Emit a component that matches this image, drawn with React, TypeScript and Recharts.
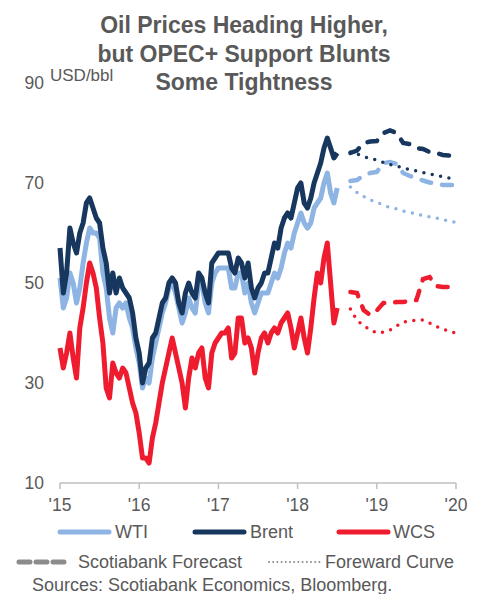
import React from "react";
import { LineChart, Line, XAxis, YAxis } from "recharts";

// months since Jan 2015, history every half month up to Jul 2018
const brentHist = [
  57, 48, 52, 61, 58, 56, 60, 62, 66, 67, 65, 63, 62, 57, 54, 48, 52, 48, 51, 49,
  48, 47, 44, 39, 36, 30, 33, 34, 39, 40, 43, 46, 47, 50, 51, 50, 46, 44, 48, 50,
  48, 47, 52, 51, 48, 46, 54, 55, 56, 56, 56, 56, 53, 52, 55, 54, 51, 54, 49, 47,
  49, 50, 52, 52, 55, 58, 57, 61, 63, 64, 63, 66, 69, 70, 66, 65, 67, 70, 72, 74,
  77, 79, 77, 75, 76,
];
const wtiHist = [
  51, 45, 47, 52, 50, 46, 49, 54, 58, 61, 60, 60, 59, 52, 49, 43, 40, 45, 46, 45,
  46, 43, 41, 37, 34, 29, 31, 30, 35, 38, 41, 44, 46, 49, 50, 48, 45, 42, 44, 47,
  45, 44, 50, 50, 46, 44, 50, 52, 53, 53, 53, 53, 49, 49, 52, 52, 48, 50, 46, 44,
  46, 48, 48, 48, 50, 52, 51, 53, 56, 58, 57, 60, 62, 64, 62, 61, 62, 65, 66, 67,
  70, 72, 68, 66, 69,
];
const wcsHist = [
  37, 33, 36, 40, 35, 31, 41, 45, 50, 54, 52, 49, 43, 38, 29, 27, 34, 32, 31, 33,
  32, 29, 26, 24, 20, 15, 15, 14, 19, 22, 26, 30, 33, 36, 39, 36, 33, 30, 25, 31,
  35, 33, 36, 37, 31, 29, 36, 38, 39, 40, 40, 41, 35, 36, 43, 43, 38, 39, 37, 32,
  36, 39, 40, 38, 40, 41, 40, 42, 43, 44, 41, 37, 40, 43, 39, 36, 41, 47, 52, 50,
  55, 58, 50, 42, 45,
];

// monthly outlook, Sep 2018 .. Jan 2020
const outlookMonths = [44, 45, 46, 47, 48, 49, 50, 51, 52, 53, 54, 55, 56, 57, 58, 59, 60];
const brentForecast = [76, 76.5, 78, 78.3, 78.4, 80, 80.5, 80, 78, 77.8, 77, 76.8, 76.2, 76, 75.6, 75.5, 75.5];
const wtiForecast = [70.4, 70.6, 71.5, 72, 72.2, 74, 74.2, 73.8, 72, 71.4, 71, 70.5, 70.1, 69.9, 69.6, 69.6, 69.6];
const wcsForecast = [48.2, 48, 44.6, 43.6, 44.5, 46, 46, 46.2, 46.2, 46.4, 46.6, 50.8, 51.2, 49.4, 49.2, 49.2, 49.2];
const brentCurve = [76.2, 75.8, 75.3, 74.9, 74.6, 74.1, 73.7, 73.4, 73, 72.7, 72.4, 72.1, 71.8, 71.5, 71.3, 71, 70.7];
const wtiCurve = [69.2, 68.1, 67.3, 66.6, 66.1, 65.6, 65.1, 64.8, 64.4, 64.1, 63.8, 63.5, 63.2, 63, 62.7, 62.4, 62.1];
const wcsCurve = [44.8, 42.5, 41.5, 40.6, 40, 40.2, 40.6, 41.4, 42.2, 42.4, 42.6, 42.6, 42, 41.3, 40.8, 40.3, 40];

const xTicks = [0, 12, 24, 36, 48, 60];
const xLabels = ["'15", "'16", "'17", "'18", "'19", "'20"];
const yTicks = [10, 30, 50, 70, 90];

const WTI = "#8DB4E2";
const BRENT = "#17375E";
const WCS = "#EE1C2E";
const TXT = "#595959";
const FONT = "'Liberation Sans', Arial, sans-serif";

const rows: Record<string, number>[] = [
  ...brentHist.map((b, i) => ({ m: i / 2, brent: b, wti: wtiHist[i], wcs: wcsHist[i] })),
  ...outlookMonths.map((m, i) => ({
    m,
    brentF: brentForecast[i],
    wtiF: wtiForecast[i],
    wcsF: wcsForecast[i],
    brentC: brentCurve[i],
    wtiC: wtiCurve[i],
    wcsC: wcsCurve[i],
  })),
];

const dash = { strokeWidth: 4.5, strokeDasharray: "10 11", strokeLinecap: "round" as const };
const dots = { strokeWidth: 3.5, strokeDasharray: "0 8.5", strokeLinecap: "round" as const };

export default function App() {
  const tick = { fill: TXT, fontSize: 17.5, fontFamily: FONT };
  return (
    <div style={{ position: "absolute", left: 0, top: 0, width: 482, height: 594, background: "#fff" }}>
      <LineChart width={482} height={594} data={rows} margin={{ top: 83, right: 26, bottom: 81, left: 0 }}>
        <XAxis
          dataKey="m"
          type="number"
          domain={[0, 60]}
          ticks={xTicks}
          tickFormatter={(v) => xLabels[xTicks.indexOf(v)]}
          tick={tick}
          height={30}
          stroke="#BFBFBF"
          strokeWidth={1.5}
          tickSize={6}
          tickMargin={10}
        />
        <YAxis
          domain={[10, 90]}
          ticks={yTicks}
          tick={tick}
          width={60}
          axisLine={false}
          tickLine={false}
          tickSize={0}
          tickMargin={16}
        />
        <Line dataKey="wti" stroke={WTI} strokeWidth={5} strokeLinejoin="round" dot={false} isAnimationActive={false} />
        <Line dataKey="brent" stroke={BRENT} strokeWidth={5} strokeLinejoin="round" dot={false} isAnimationActive={false} />
        <Line dataKey="wcs" stroke={WCS} strokeWidth={5} strokeLinejoin="round" dot={false} isAnimationActive={false} />
        <Line dataKey="wtiF" stroke={WTI} {...dash} dot={false} isAnimationActive={false} />
        <Line dataKey="brentF" stroke={BRENT} {...dash} dot={false} isAnimationActive={false} />
        <Line dataKey="wcsF" stroke={WCS} {...dash} dot={false} isAnimationActive={false} />
        <Line dataKey="wtiC" stroke={WTI} {...dots} dot={false} isAnimationActive={false} />
        <Line dataKey="brentC" stroke={BRENT} {...dots} dot={false} isAnimationActive={false} />
        <Line dataKey="wcsC" stroke={WCS} {...dots} dot={false} isAnimationActive={false} />
      </LineChart>
      <svg
        width={482}
        height={594}
        style={{ position: "absolute", left: 0, top: 0, pointerEvents: "none" }}
        fontFamily={FONT}
        fill={TXT}
      >
        <g fontSize={23} fontWeight="bold" textAnchor="middle">
          <text x={244} y={25} dominantBaseline="central">Oil Prices Heading Higher,</text>
          <text x={244} y={53.5} dominantBaseline="central">but OPEC+ Support Blunts</text>
          <text x={244} y={82} dominantBaseline="central">Some Tightness</text>
        </g>
        <text x={50} y={75} fontSize={17} dominantBaseline="central">USD/bbl</text>
        <g fontSize={18}>
          <line x1={60} x2={109} y1={532} y2={532} stroke={WTI} strokeWidth={5} strokeLinecap="round" />
          <text x={115} y={532} dominantBaseline="central">WTI</text>
          <line x1={195} x2={244} y1={532} y2={532} stroke={BRENT} strokeWidth={5} strokeLinecap="round" />
          <text x={250} y={532} dominantBaseline="central">Brent</text>
          <line x1={339} x2={388} y1={532} y2={532} stroke={WCS} strokeWidth={5} strokeLinecap="round" />
          <text x={393} y={532} dominantBaseline="central">WCS</text>
          <line x1={19} x2={66} y1={562} y2={562} stroke="#8C8C8C" strokeWidth={5} strokeLinecap="round" strokeDasharray="11 6" />
          <text x={78} y={562} dominantBaseline="central">Scotiabank Forecast</text>
          <line x1={269} x2={320} y1={562} y2={562} stroke="#8C8C8C" strokeWidth={2} strokeLinecap="round" strokeDasharray="0 4.2" />
          <text x={325} y={562} dominantBaseline="central">Foreward Curve</text>
          <text x={32} y={584.5} dominantBaseline="central">Sources: Scotiabank Economics, Bloomberg.</text>
        </g>
      </svg>
    </div>
  );
}
